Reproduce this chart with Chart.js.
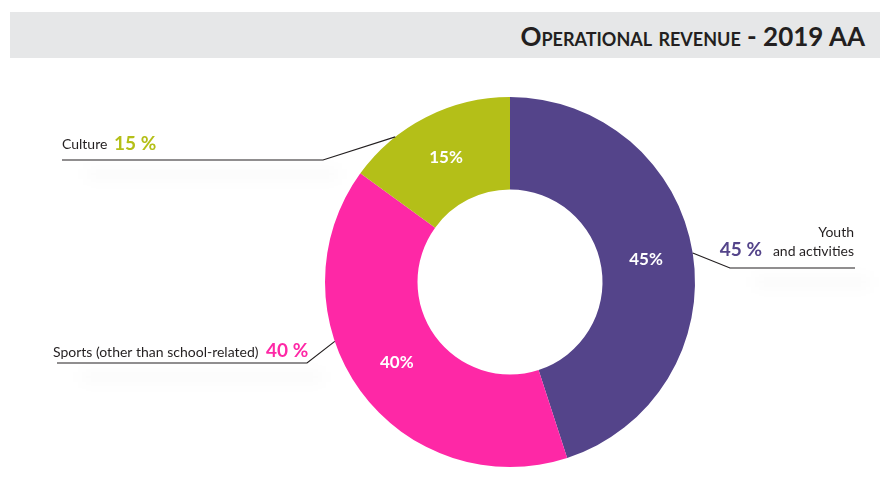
<!DOCTYPE html>
<html>
<head>
<meta charset="utf-8">
<script src="https://cdn.jsdelivr.net/npm/chart.js@4"></script>
<style>
  html, body { margin: 0; padding: 0; background: #fff; }
  #wrap { position: relative; width: 881px; height: 483px; }
  #titleBar {
    position: absolute; left: 10px; top: 12px; width: 870px; height: 46px;
    background: #e6e7e8; box-sizing: border-box; padding-right: 15px;
    text-align: right; font-family: Lato, sans-serif; font-weight: 700;
    font-size: 26px; line-height: 48px; color: #231f20; font-variant: small-caps;
  }
  #revenueChart { position: absolute; left: 0; top: 0; }
</style>
</head>
<body>
<div id="wrap">
  <canvas id="revenueChart" width="881" height="483"></canvas>
  <div id="titleBar">Operational revenue - 2019 AA</div>
</div>
<script>
// Operational revenue split, 2019
var categories = ['Youth and activities', 'Sports (other than school-related)', 'Culture'];
var shares = [45, 40, 15];
var sliceColors = ['#54448a', '#fe28a6', '#b4bf18'];

// Outside callouts: text lines, where the leader line leaves the ring
// (fraction through the slice), and where the text / line sits
var callouts = [
    { lines: ['Youth', 'and activities'], side: 'right', at: 0.5,
      elbow: [730, 268], lineEnd: 855, textX: 854, textY: [237, 256], pctX: 762, pctY: 256 },
    { lines: ['Sports (other than school-related)'], side: 'left', at: 0.62,
      elbow: [307, 363], lineEnd: 57, textX: 53, textY: [357], pctX: 266, pctY: 357 },
    { lines: ['Culture'], side: 'left', at: 0.29,
      elbow: [323, 160], lineEnd: 62, textX: 62, textY: [149], pctX: 114, pctY: 150 }
];

var calloutPlugin = {
    id: 'callouts',
    afterDatasetsDraw: function (chart) {
        var ctx = chart.ctx;
        var arcs = chart.getDatasetMeta(0).data;
        ctx.save();
        for (var i = 0; i < arcs.length; i++) {
            var arc = arcs[i];
            var c = callouts[i];
            // percentage inside the ring
            var mid = (arc.startAngle + arc.endAngle) / 2;
            var rMid = (arc.innerRadius + arc.outerRadius) / 2;
            ctx.fillStyle = '#ffffff';
            ctx.font = 'bold 17px Lato, sans-serif';
            ctx.textAlign = 'center';
            ctx.textBaseline = 'middle';
            ctx.fillText(shares[i] + '%', arc.x + Math.cos(mid) * rMid - 1, arc.y + Math.sin(mid) * rMid - 1);

            // leader line from the ring edge
            var a = arc.startAngle + (arc.endAngle - arc.startAngle) * c.at;
            var sx = arc.x + Math.cos(a) * arc.outerRadius;
            var sy = arc.y + Math.sin(a) * arc.outerRadius;

            // very soft shadow under the horizontal part
            ctx.save();
            var x0 = Math.min(c.elbow[0], c.lineEnd), x1 = Math.max(c.elbow[0], c.lineEnd);
            ctx.filter = 'blur(7px)';
            ctx.fillStyle = 'rgba(0,0,0,0.02)';
            ctx.fillRect(x0 + 25, c.elbow[1] + 8, x1 - x0 - 10, 12);
            ctx.restore();

            ctx.strokeStyle = '#231f20';
            ctx.lineWidth = 1.2;
            ctx.beginPath();
            ctx.moveTo(sx, sy);
            ctx.lineTo(c.elbow[0], c.elbow[1]);
            ctx.lineTo(c.lineEnd, c.elbow[1]);
            ctx.stroke();

            // label text
            ctx.textBaseline = 'alphabetic';
            ctx.fillStyle = '#231f20';
            ctx.font = '14px Lato, sans-serif';
            ctx.textAlign = c.side === 'right' ? 'right' : 'left';
            for (var j = 0; j < c.lines.length; j++) {
                ctx.fillText(c.lines[j], c.textX, c.textY[j]);
            }
            ctx.fillStyle = sliceColors[i];
            ctx.font = 'bold 19px Lato, sans-serif';
            ctx.textAlign = c.side === 'right' ? 'right' : 'left';
            ctx.fillText(shares[i] + ' %', c.pctX, c.pctY);
        }
        ctx.restore();
    }
};

var chart = new Chart(document.getElementById('revenueChart'), {
    type: 'doughnut',
    data: {
        labels: categories,
        datasets: [{
            data: shares,
            backgroundColor: sliceColors,
            borderWidth: 0
        }]
    },
    options: {
        responsive: false,
        animation: false,
        cutout: '50%',
        layout: { padding: { left: 325, right: 186, top: 97, bottom: 16 } },
        plugins: {
            legend: { display: false },
            tooltip: { enabled: false }
        }
    },
    plugins: [calloutPlugin]
});
</script>
</body>
</html>
